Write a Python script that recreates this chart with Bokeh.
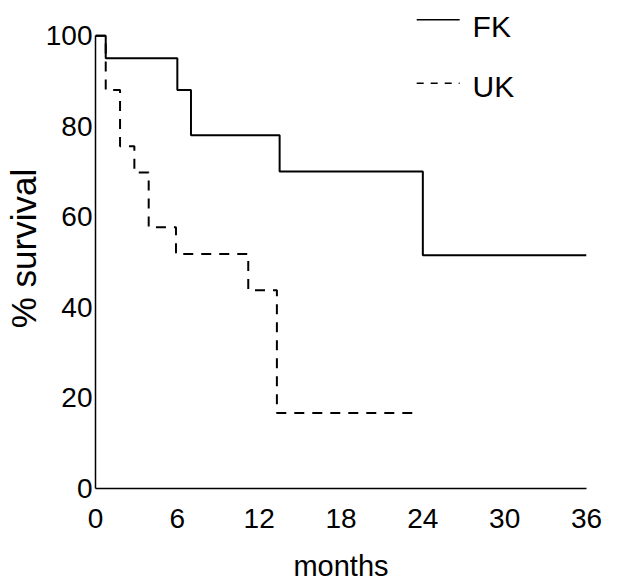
from bokeh.plotting import figure
from bokeh.models import Range1d, FixedTicker, Label
from bokeh.embed import file_html
from bokeh.resources import INLINE

# Kaplan-Meier step data
fk_months = [0, 0.75, 6.0, 7.0, 13.5, 24.0, 36.0]
fk_survival = [100, 95, 88, 78, 70, 51.5, 51.5]
uk_months = [0, 0.75, 1.8, 2.85, 3.9, 5.9, 11.2, 13.3, 23.3]
uk_survival = [100, 88, 75.6, 69.8, 57.7, 51.8, 43.8, 16.7, 16.7]

x_ticks = [0, 6, 12, 18, 24, 30, 36]
y_ticks = [0, 20, 40, 60, 80, 100]
series_names = ["FK", "UK"]

TICK_FONT = "'Liberation Sans Narrow', 'Liberation Sans', Arial, sans-serif"
FONT = "'Liberation Sans', Arial, sans-serif"

p = figure(width=624, height=584, output_backend="svg", toolbar_location=None,
           x_range=Range1d(0, 36), y_range=Range1d(0, 106),
           min_border_left=94, min_border_right=38, min_border_top=8, min_border_bottom=95)
p.outline_line_color = None
p.grid.visible = False
p.background_fill_color = "white"
p.border_fill_color = "white"

p.step(fk_months, fk_survival, mode="after", line_color="black", line_width=2)
p.step(uk_months, uk_survival, mode="after", line_color="black", line_width=2, line_dash="10 8")

# legend drawn inside the frame, above the 100 line
p.line([23.55, 26.7], [103.5, 103.5], line_color="black", line_width=1.5)
p.line([23.55, 26.7], [89.5, 89.5], line_color="black", line_width=1.5, line_dash="7 7")
p.add_layout(Label(x=27.65, y=102.1, text=series_names[0], text_font=FONT, text_font_size="30px",
                   text_baseline="middle", text_align="left", text_color="black"))
p.add_layout(Label(x=27.65, y=88.8, text=series_names[1], text_font=FONT, text_font_size="30px",
                   text_baseline="middle", text_align="left", text_color="black"))

for ax in (p.xaxis[0], p.yaxis[0]):
    ax.major_tick_line_color = None
    ax.minor_tick_line_color = None
    ax.major_tick_out = 0
    ax.major_tick_in = 0
    ax.axis_line_color = "black"
    ax.axis_line_width = 1.5
    ax.major_label_text_font = TICK_FONT
    ax.major_label_text_font_size = "28px"
    ax.major_label_text_color = "black"
    ax.axis_label_text_font = FONT
    ax.axis_label_text_font_style = "normal"
    ax.axis_label_text_color = "black"

p.xaxis[0].ticker = FixedTicker(ticks=x_ticks)
p.yaxis[0].ticker = FixedTicker(ticks=y_ticks)
p.xaxis[0].bounds = (0, 36)
p.yaxis[0].bounds = (0, 100)
p.xaxis[0].major_label_standoff = 20
p.yaxis[0].major_label_standoff = 3

p.xaxis[0].axis_label = "months"
p.xaxis[0].axis_label_text_font_size = "29px"
p.xaxis[0].axis_label_standoff = 19

p.yaxis[0].axis_label = "% survival"
p.yaxis[0].axis_label_text_font_size = "35px"
p.yaxis[0].axis_label_standoff = 0

open("out.html", "w").write(file_html(p, INLINE))
